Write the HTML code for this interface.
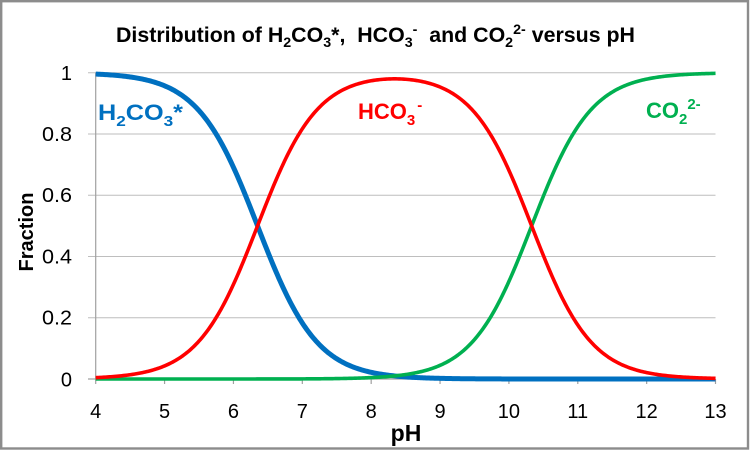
<!DOCTYPE html>
<html>
<head>
<meta charset="utf-8">
<style>
  html,body{margin:0;padding:0;background:#fff;}
  svg{display:block;}
  text{font-family:"Liberation Sans",Arial,sans-serif;}
</style>
</head>
<body>
<svg id="s" width="750" height="451" viewBox="0 0 750 451" xmlns="http://www.w3.org/2000/svg">
  <rect x="0" y="0" width="750" height="451" fill="#fff"/>
  <rect x="1.2" y="1.2" width="746.8" height="447.3" fill="none" stroke="#8c8c8c" stroke-width="2.4"/>

  <!-- Title -->
  <text x="116" y="42" font-size="21" font-weight="bold" fill="#000" textLength="519" lengthAdjust="spacingAndGlyphs">Distribution of H<tspan font-size="14" dy="5">2</tspan><tspan dy="-5">CO</tspan><tspan font-size="14" dy="5">3</tspan><tspan dy="-5">*,&#160; HCO</tspan><tspan font-size="14" dy="5">3</tspan><tspan font-size="14" dy="-13">-</tspan><tspan dy="8">&#160; and CO</tspan><tspan font-size="14" dy="5">2</tspan><tspan font-size="14" dy="-13">2-</tspan><tspan dy="8"> versus pH</tspan></text>

  <!-- gridlines -->
  <g stroke="#BEBEBE" stroke-width="1">
    <line x1="88" y1="72.7" x2="715.5" y2="72.7"/>
    <line x1="88" y1="133.96" x2="715.5" y2="133.96"/>
    <line x1="88" y1="195.22" x2="715.5" y2="195.22"/>
    <line x1="88" y1="256.48" x2="715.5" y2="256.48"/>
    <line x1="88" y1="317.74" x2="715.5" y2="317.74"/>
  </g>
  <!-- axes -->
  <g stroke="#A0A0A0" stroke-width="1.2">
    <line x1="95.7" y1="72.7" x2="95.7" y2="384"/>
    <line x1="88" y1="379" x2="715.5" y2="379"/>
    <line x1="164.57" y1="379" x2="164.57" y2="384"/>
    <line x1="233.44" y1="379" x2="233.44" y2="384"/>
    <line x1="302.31" y1="379" x2="302.31" y2="384"/>
    <line x1="371.18" y1="379" x2="371.18" y2="384"/>
    <line x1="440.05" y1="379" x2="440.05" y2="384"/>
    <line x1="508.92" y1="379" x2="508.92" y2="384"/>
    <line x1="577.79" y1="379" x2="577.79" y2="384"/>
    <line x1="646.66" y1="379" x2="646.66" y2="384"/>
    <line x1="715.5" y1="379" x2="715.5" y2="384"/>
  </g>

  <!-- y tick labels -->
  <g font-size="20" fill="#000" text-anchor="end">
    <text x="72" y="80">1</text>
    <text x="72" y="141" textLength="30" lengthAdjust="spacingAndGlyphs">0.8</text>
    <text x="72" y="202.2" textLength="30" lengthAdjust="spacingAndGlyphs">0.6</text>
    <text x="72" y="263.5" textLength="30" lengthAdjust="spacingAndGlyphs">0.4</text>
    <text x="72" y="324.7" textLength="30" lengthAdjust="spacingAndGlyphs">0.2</text>
    <text x="72" y="386.3">0</text>
  </g>
  <!-- x tick labels -->
  <g font-size="20" fill="#000" text-anchor="middle">
    <text x="95.7" y="418">4</text>
    <text x="164.57" y="418">5</text>
    <text x="233.44" y="418">6</text>
    <text x="302.31" y="418">7</text>
    <text x="371.18" y="418">8</text>
    <text x="440.05" y="418">9</text>
    <text x="508.92" y="418">10</text>
    <text x="577.79" y="418">11</text>
    <text x="646.66" y="418">12</text>
    <text x="715.5" y="418">13</text>
  </g>

  <!-- axis titles -->
  <text x="406" y="441" font-size="23" font-weight="bold" text-anchor="middle" fill="#000">pH</text>
  <text transform="translate(33,232) rotate(-90)" font-size="20" font-weight="bold" text-anchor="middle" fill="#000">Fraction</text>

  <!-- curves -->
  <path id="pb" fill="none" stroke="#0070C0" stroke-width="5" stroke-linejoin="round"/>
  <path id="pg" fill="none" stroke="#00B050" stroke-width="3.6" stroke-linejoin="round"/>
  <path id="pr" fill="none" stroke="#FF0000" stroke-width="3.6" stroke-linejoin="round"/>

  <!-- series labels -->
  <text x="98" y="120" font-size="22" font-weight="bold" fill="#0070C0" textLength="85" lengthAdjust="spacingAndGlyphs">H<tspan font-size="15" dy="6">2</tspan><tspan dy="-6">CO</tspan><tspan font-size="15" dy="6">3</tspan><tspan dy="-6">*</tspan></text>
  <text x="358" y="119" font-size="22" font-weight="bold" fill="#FF0000">HCO<tspan font-size="15" dy="6">3</tspan><tspan font-size="15" dx="2" dy="-15">-</tspan></text>
  <text x="646" y="118" font-size="22" font-weight="bold" fill="#00B050">CO<tspan font-size="15" dy="6">2</tspan><tspan font-size="15" dy="-15">2-</tspan></text>

  <script>
  (function(){
    var X=function(p){return 95.7+(p-4)*68.87;};
    var Y=function(v){return 379-v*306.3;};
    var K1=Math.pow(10,-6.35), K2=Math.pow(10,-10.33);
    var b=[],r=[],g=[];
    for(var i=0;i<=450;i++){
      var p=4+i*0.02;
      var h=Math.pow(10,-p);
      var D=h*h+h*K1+K1*K2;
      var a0=h*h/D,a1=h*K1/D,a2=K1*K2/D;
      var x=X(p).toFixed(2);
      b.push((i?'L':'M')+x+','+Y(a0).toFixed(2));
      r.push((i?'L':'M')+x+','+Y(a1).toFixed(2));
      g.push((i?'L':'M')+x+','+Y(a2).toFixed(2));
    }
    document.getElementById('pb').setAttribute('d',b.join(''));
    document.getElementById('pr').setAttribute('d',r.join(''));
    document.getElementById('pg').setAttribute('d',g.join(''));
  })();
  </script>
</svg>
</body>
</html>
